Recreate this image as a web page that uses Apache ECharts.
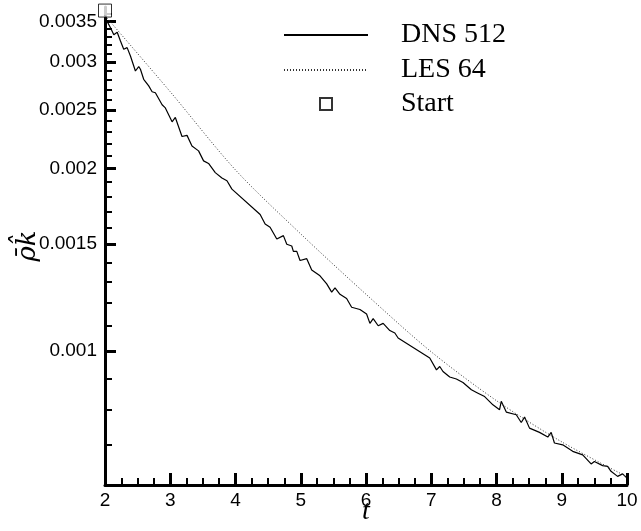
<!DOCTYPE html>
<html>
<head>
<meta charset="utf-8">
<script src="https://cdn.jsdelivr.net/npm/echarts@6/dist/echarts.min.js"></script>
<style>
  html, body { margin: 0; padding: 0; background: #fff; }
  #chart { width: 641px; height: 531px; }
</style>
</head>
<body>
<div id="chart"></div>
<script>
// DNS 512 kinetic energy decay
const tDns = [2.0, 2.034, 2.084, 2.135, 2.187, 2.237, 2.287, 2.339, 2.390, 2.466, 2.517, 2.543, 2.593, 2.670, 2.722, 2.772, 2.875, 2.925,
  3.028, 3.078, 3.180, 3.257, 3.333, 3.434, 3.511, 3.587, 3.690, 3.792, 3.869, 3.945,
  4.378, 4.454, 4.530, 4.633, 4.734, 4.786, 4.862, 4.887, 4.939, 4.989,
  5.092, 5.168, 5.295, 5.398, 5.474, 5.525, 5.601, 5.703, 5.780, 5.907,
  6.009, 6.060, 6.110, 6.187, 6.263, 6.365, 6.442, 6.492,
  6.977, 7.080, 7.130, 7.180, 7.283, 7.385, 7.486, 7.615, 7.716, 7.818, 7.945,
  8.047, 8.073, 8.150, 8.303, 8.379, 8.430, 8.506, 8.659, 8.786, 8.838, 8.888,
  9.015, 9.168, 9.321, 9.450, 9.500, 9.627, 9.703, 9.755, 9.856, 9.933, 10.0];
const kDns = [0.00354, 0.00350, 0.00342, 0.00333, 0.00336, 0.00325, 0.00315, 0.00317, 0.00307, 0.00290, 0.00295, 0.00292, 0.00281, 0.00274, 0.00268, 0.00267, 0.00255, 0.00252,
  0.00239, 0.00243, 0.00226, 0.00227, 0.00218, 0.00214, 0.00206, 0.00204, 0.00197, 0.00193, 0.00191, 0.00185,
  0.00168, 0.00162, 0.00160, 0.00153, 0.00155, 0.00150, 0.00149, 0.00146, 0.00146, 0.00141,
  0.00142, 0.00136, 0.00133, 0.00129, 0.00125, 0.00127, 0.00124, 0.00122, 0.00118, 0.00117,
  0.00115, 0.00111, 0.00113, 0.00110, 0.00111, 0.00108, 0.00107, 0.00105,
  0.000973, 0.000930, 0.000942, 0.000924, 0.000905, 0.000898, 0.000886, 0.000862, 0.000851, 0.000840, 0.000814,
  0.000799, 0.000825, 0.000792, 0.000784, 0.000761, 0.000777, 0.000745, 0.000733, 0.000720, 0.000733, 0.000704,
  0.000699, 0.000682, 0.000673, 0.000650, 0.000656, 0.000646, 0.000644, 0.000632, 0.000620, 0.000626, 0.000616];

// LES 64 kinetic energy decay
const tLes = [2, 3, 4, 5, 6, 7, 8, 9, 10];
const kLes = [0.00358, 0.00268, 0.00199, 0.00156, 0.00124, 0.000996, 0.000827, 0.000707, 0.000619];

// Initial state marker
const startT = [2.0];
const startK = [0.00365];

// Axis tick values
const yMajorTicks = [0.001, 0.0015, 0.002, 0.0025, 0.003, 0.0035];
const yMinorTicks = [0.0006, 0.0007, 0.0008, 0.0009, 0.0011, 0.0012, 0.0013, 0.0014, 0.0016, 0.0017, 0.0018, 0.0019,
  0.0021, 0.0022, 0.0023, 0.0024, 0.0026, 0.0027, 0.0028, 0.0029, 0.0031, 0.0032, 0.0033, 0.0034, 0.0036];

const zip = (xs, ys) => xs.map((x, i) => [x, ys[i]]);

const chart = echarts.init(document.getElementById('chart'), null, { renderer: 'canvas' });

const labelFont = { fontFamily: 'Liberation Sans', fontSize: 19, color: '#000' };
const legendText = { fontFamily: 'Liberation Serif', fontSize: 28, color: '#000' };

chart.setOption({
  animation: false,
  backgroundColor: '#fff',
  grid: { left: 105, top: 7, width: 522, height: 478, outerBoundsMode: 'none' },
  legend: [
    {
      orient: 'vertical',
      left: 278, top: 16,
      itemWidth: 84, itemHeight: 12,
      itemGap: 7,
      textStyle: Object.assign({ padding: [0, 0, 0, 28] }, legendText),
      data: [
        { name: 'DNS 512', itemStyle: { opacity: 0 } },
        { name: 'LES 64', itemStyle: { opacity: 0 } }
      ]
    },
    {
      orient: 'vertical',
      left: 314, top: 85,
      itemWidth: 12, itemHeight: 12,
      textStyle: Object.assign({ padding: [0, 0, 0, 64] }, legendText),
      data: ['Start']
    }
  ],
  xAxis: {
    type: 'value', min: 2, max: 10, interval: 1,
    name: 't', nameLocation: 'middle', nameGap: 13, nameMoveOverlap: false,
    nameTextStyle: { fontFamily: 'Liberation Serif', fontStyle: 'italic', fontSize: 28, color: '#000' },
    axisLine: { lineStyle: { color: '#000', width: 3 } },
    axisTick: { inside: true, length: 12, lineStyle: { color: '#000', width: 3 } },
    minorTick: { show: true, splitNumber: 4, length: 7, lineStyle: { color: '#000', width: 2 } },
    axisLabel: Object.assign({ margin: 6 }, labelFont),
    splitLine: { show: false }
  },
  yAxis: [
    {
      type: 'log', logBase: 10, min: 0.0006, max: 0.0037,
      name: 'ρ̄k̂', nameLocation: 'middle', nameGap: 64, nameRotate: 90, nameMoveOverlap: false,
      nameTextStyle: { fontFamily: 'DejaVu Serif', fontStyle: 'italic', fontSize: 26, color: '#000' },
      axisLine: { lineStyle: { color: '#000', width: 3 } },
      axisTick: { inside: true, length: 11, customValues: yMajorTicks, lineStyle: { color: '#000', width: 3 } },
      axisLabel: Object.assign({ margin: 8, customValues: yMajorTicks, formatter: v => String(+v.toPrecision(2)) }, labelFont),
      splitLine: { show: false }
    },
    {
      type: 'log', logBase: 10, min: 0.0006, max: 0.0037, position: 'left',
      axisLine: { show: false },
      axisTick: { inside: true, length: 7, customValues: yMinorTicks, lineStyle: { color: '#000', width: 2 } },
      axisLabel: { show: false },
      splitLine: { show: false }
    }
  ],
  series: [
    {
      name: 'DNS 512', type: 'line', data: zip(tDns, kDns), showSymbol: false, symbol: 'none',
      lineStyle: { color: '#000', width: 1.2 }, itemStyle: { color: '#000' }
    },
    {
      name: 'LES 64', type: 'line', data: zip(tLes, kLes), showSymbol: false, symbol: 'none', smooth: 0.3,
      lineStyle: { color: '#333', width: 1, type: [1, 2] }, itemStyle: { color: '#333' }
    },
    {
      name: 'Start', type: 'scatter', data: zip(startT, startK), symbol: 'rect', symbolSize: 13,
      itemStyle: { color: '#fff', borderColor: '#000', borderWidth: 1 }
    }
  ]
});
</script>
</body>
</html>
